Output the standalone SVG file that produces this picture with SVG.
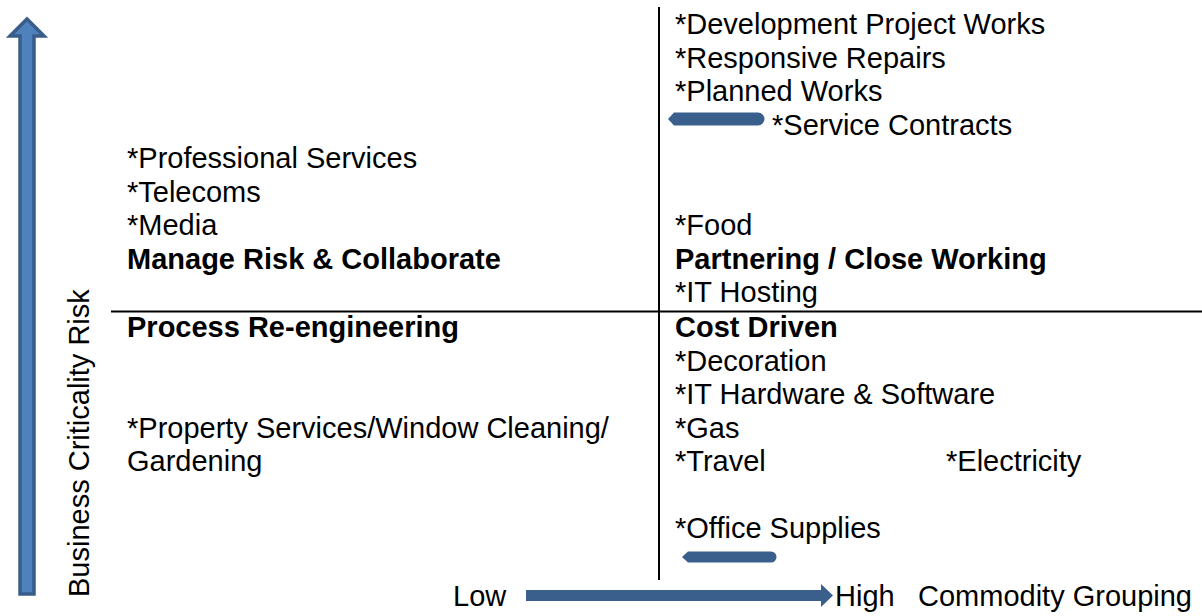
<svg xmlns="http://www.w3.org/2000/svg" width="1202" height="616" viewBox="0 0 1202 616">
  <style>
    text { font-family: "Liberation Sans", Arial, sans-serif; font-size: 29px; fill: #000; }
    .b { font-weight: bold; }
    .axis { stroke: #000; stroke-width: 2; fill: none; }
    .arrow { fill: #3A5F8C; }
  </style>

  <!-- Vertical axis arrow: Business Criticality Risk -->
  <g id="risk-axis">
    <polygon points="27,19 44,36 34,36 34,594 20,594 20,36 10,36" fill="#4F81BD" stroke="#385D8A" stroke-width="3.5" stroke-linejoin="miter"/>
    <text transform="translate(89,597) rotate(-90)">Business Criticality Risk</text>
  </g>

  <!-- Quadrant dividers -->
  <g id="connectors">
    <line class="axis" x1="659" y1="7" x2="659" y2="580"/>
    <line class="axis" x1="111" y1="311.5" x2="1202" y2="311.5"/>
    <!-- small left-pointing arrows -->
    <path class="arrow" d="M668,119 L674,112.5 L758,112.5 A6,6 0 0 1 758,125.5 L674,125.5 Z"/>
    <path class="arrow" d="M682,557 L688,551.5 L771,551.5 A5.5,5.5 0 0 1 771,562.5 L688,562.5 Z"/>
    <!-- commodity axis arrow -->
    <polygon class="arrow" points="526,590 821,590 821,584 833,595.5 821,607 821,601 526,601"/>
  </g>

  <!-- Top-left quadrant -->
  <g id="q-manage-risk">
    <text x="127" y="168">*Professional Services</text>
    <text x="127" y="201.5">*Telecoms</text>
    <text x="127" y="235">*Media</text>
    <text class="b" x="127" y="268.5">Manage Risk &amp; Collaborate</text>
  </g>

  <!-- Top-right quadrant -->
  <g id="q-partnering">
    <text x="675" y="34">*Development Project Works</text>
    <text x="675" y="67.5">*Responsive Repairs</text>
    <text x="675" y="101">*Planned Works</text>
    <text x="772" y="134.5">*Service Contracts</text>
    <text x="675" y="235">*Food</text>
    <text class="b" x="675" y="268.5">Partnering / Close Working</text>
    <text x="675" y="302">*IT Hosting</text>
  </g>

  <!-- Bottom-left quadrant -->
  <g id="q-process">
    <text class="b" x="127" y="337">Process Re-engineering</text>
    <text x="127" y="437.5">*Property Services/Window Cleaning/</text>
    <text x="127" y="471">Gardening</text>
  </g>

  <!-- Bottom-right quadrant -->
  <g id="q-cost">
    <text class="b" x="675" y="337">Cost Driven</text>
    <text x="675" y="370.5">*Decoration</text>
    <text x="675" y="404">*IT Hardware &amp; Software</text>
    <text x="675" y="437.5">*Gas</text>
    <text x="675" y="471">*Travel</text>
    <text x="946" y="471">*Electricity</text>
    <text x="675" y="538">*Office Supplies</text>
  </g>

  <!-- Horizontal axis labels -->
  <g id="commodity-axis">
    <text x="453" y="606">Low</text>
    <text x="835" y="606">High</text>
    <text x="918" y="606">Commodity Grouping</text>
  </g>
</svg>
